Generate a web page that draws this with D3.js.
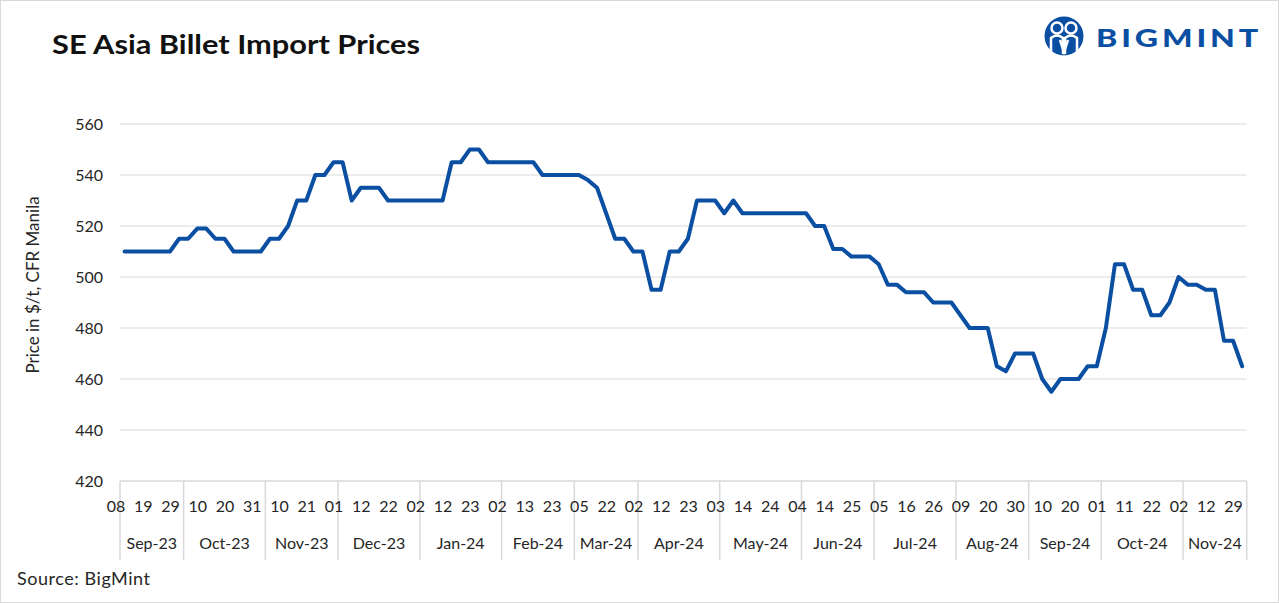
<!DOCTYPE html>
<html>
<head>
<meta charset="utf-8">
<script src="https://cdn.jsdelivr.net/npm/d3@7"></script>
<style>
    body { margin: 0; background: #fff; }
    text { font-family: Lato, "Open Sans", sans-serif; }
</style>
</head>
<body>
<div id="chart"></div>
<script>
// weekly-ish price points, Sep-23 .. Nov-24
const prices = [
    510, 510, 510, 510, 510, 510, 515, 515, 519, 519,
    515, 515, 510, 510, 510, 510, 515, 515, 520, 530,
    530, 540, 540, 545, 545, 530, 535, 535, 535, 530,
    530, 530, 530, 530, 530, 530, 545, 545, 550, 550,
    545, 545, 545, 545, 545, 545, 540, 540, 540, 540,
    540, 538, 535, 525, 515, 515, 510, 510, 495, 495,
    510, 510, 515, 530, 530, 530, 525, 530, 525, 525,
    525, 525, 525, 525, 525, 525, 520, 520, 511, 511,
    508, 508, 508, 505, 497, 497, 494, 494, 494, 490,
    490, 490, 485, 480, 480, 480, 465, 463, 470, 470,
    470, 460, 455, 460, 460, 460, 465, 465, 480, 505,
    505, 495, 495, 485, 485, 490, 500, 497, 497, 495,
    495, 475, 475, 465
];

const months = ["Sep-23", "Oct-23", "Nov-23", "Dec-23", "Jan-24", "Feb-24", "Mar-24", "Apr-24",
    "May-24", "Jun-24", "Jul-24", "Aug-24", "Sep-24", "Oct-24", "Nov-24"];
const monthCounts = [7, 9, 8, 9, 9, 8, 7, 9, 9, 8, 9, 8, 8, 9, 7];

// every 3rd point gets a day label
const dayLabels = ["08", "19", "29", "10", "20", "31", "10", "21", "01", "12", "22", "02",
    "12", "23", "02", "13", "23", "05", "22", "02", "12", "23", "03", "14", "24", "04",
    "14", "25", "05", "16", "26", "09", "20", "30", "10", "20", "01", "11", "22", "02",
    "12", "29"];
const labelEvery = 3;

const yTicks = [420, 440, 460, 480, 500, 520, 540, 560];

drawChart();

function drawChart() {
    const width = 1279;
    const height = 603;
    const plot = { left: 120, right: 1246.7, top: 124, bottom: 481 };
    const blue = "#0b4fa3";

    const svg = d3.select("#chart").append("svg")
        .attr("width", width)
        .attr("height", height);

    svg.append("rect")
        .attr("x", 0.5).attr("y", 0.5)
        .attr("width", width - 1).attr("height", height - 1)
        .attr("fill", "#fff")
        .attr("stroke", "#d9d9d9");

    const x = d3.scaleBand()
        .domain(d3.range(prices.length))
        .range([plot.left, plot.right]);
    const cx = i => x(i) + x.bandwidth() / 2;

    const y = d3.scaleLinear()
        .domain([420, 560])
        .range([plot.bottom, plot.top]);

    // gridlines
    svg.append("g")
        .selectAll("line")
        .data(yTicks)
        .enter()
        .append("line")
        .attr("x1", plot.left)
        .attr("x2", plot.right)
        .attr("y1", d => y(d))
        .attr("y2", d => y(d))
        .attr("stroke", d => d === 420 ? "#d9d9d9" : "#e6e6e6")
        .attr("stroke-width", 1.5);

    // y tick labels
    svg.append("g")
        .selectAll("text")
        .data(yTicks)
        .enter()
        .append("text")
        .attr("x", 103)
        .attr("y", d => y(d))
        .attr("dy", "0.35em")
        .attr("text-anchor", "end")
        .attr("font-size", 16)
        .attr("fill", "#262626")
        .text(d => d);

    svg.append("text")
        .attr("transform", "translate(39,285) rotate(-90)")
        .attr("text-anchor", "middle")
        .attr("font-size", 17)
        .attr("fill", "#262626")
        .text("Price in $/t, CFR Manila");

    // month group separators + labels
    const starts = [0];
    monthCounts.forEach((c, i) => starts.push(starts[i] + c));
    const edge = k => k >= prices.length ? plot.right : x(k);

    svg.append("g")
        .selectAll("line")
        .data(starts)
        .enter()
        .append("line")
        .attr("x1", d => edge(d))
        .attr("x2", d => edge(d))
        .attr("y1", plot.bottom)
        .attr("y2", 560)
        .attr("stroke", "#d9d9d9")
        .attr("stroke-width", 1.5);

    svg.append("g")
        .selectAll("text")
        .data(months)
        .enter()
        .append("text")
        .attr("x", (d, i) => (edge(starts[i]) + edge(starts[i + 1])) / 2)
        .attr("y", 549)
        .attr("text-anchor", "middle")
        .attr("font-size", 16)
        .attr("fill", "#262626")
        .text(d => d);

    svg.append("g")
        .selectAll("text")
        .data(dayLabels)
        .enter()
        .append("text")
        .attr("x", (d, i) => x(i * labelEvery) - 4)
        .attr("y", 512)
        .attr("text-anchor", "middle")
        .attr("font-size", 16)
        .attr("fill", "#262626")
        .text(d => d);

    // price line
    const line = d3.line()
        .x((d, i) => cx(i))
        .y(d => y(d));

    svg.append("path")
        .datum(prices)
        .attr("d", line)
        .attr("fill", "none")
        .attr("stroke", blue)
        .attr("stroke-width", 4)
        .attr("stroke-linejoin", "round")
        .attr("stroke-linecap", "round");

    // title + source
    svg.append("text")
        .attr("x", 52)
        .attr("y", 54)
        .attr("font-family", "'Open Sans', sans-serif")
        .attr("font-size", 26)
        .attr("font-weight", "bold")
        .attr("fill", "#111")
        .attr("textLength", 368)
        .attr("lengthAdjust", "spacingAndGlyphs")
        .text("SE Asia Billet Import Prices");

    svg.append("text")
        .attr("x", 17)
        .attr("y", 585)
        .attr("font-size", 18)
        .attr("fill", "#262626")
        .attr("textLength", 133)
        .attr("lengthAdjust", "spacing")
        .text("Source: BigMint");

    drawLogo(svg, blue);
}

function drawLogo(svg, blue) {
    const g = svg.append("g").attr("transform", "translate(1064,36)");
    g.append("circle").attr("r", 19.5).attr("fill", blue);
    // two little figures
    [-7, 7].forEach(dx => {
        g.append("circle").attr("cx", dx).attr("cy", -8).attr("r", 5.5)
            .attr("fill", blue).attr("stroke", "#fff").attr("stroke-width", 2.5);
        g.append("path")
            .attr("d", `M${dx - 6},18 L${dx - 6},2 Q${dx},-3 ${dx + 6},2 L${dx + 6},18`)
            .attr("fill", "none").attr("stroke", "#fff").attr("stroke-width", 2.5);
    });
    g.append("path")
        .attr("d", "M-4,4 L0,16 L4,4")
        .attr("fill", "none").attr("stroke", "#fff").attr("stroke-width", 2.5);

    svg.append("text")
        .attr("x", 1096)
        .attr("y", 47)
        .attr("font-size", 25)
        .attr("font-weight", 900)
        .attr("letter-spacing", 3)
        .attr("textLength", 166)
        .attr("lengthAdjust", "spacingAndGlyphs")
        .attr("fill", blue)
        .text("BIGMINT");
}
</script>
</body>
</html>
